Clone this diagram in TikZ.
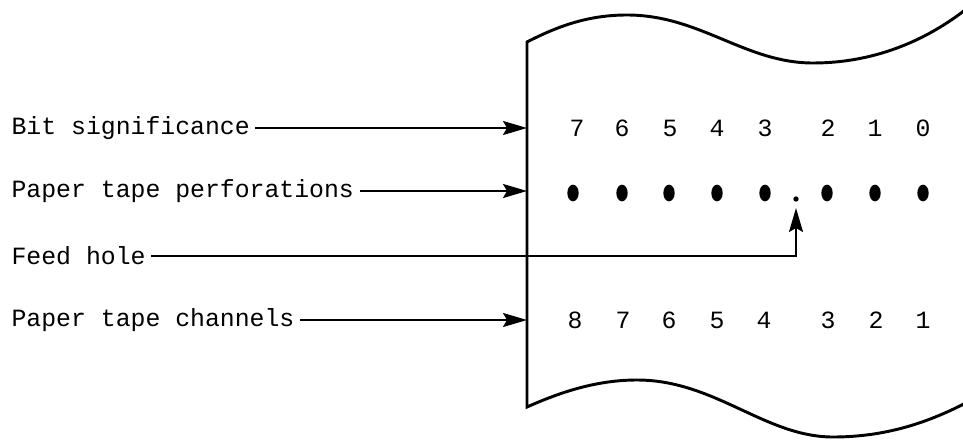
\documentclass[tikz,border=0pt]{standalone}
\usepackage{fontspec}
\setmainfont{Liberation Mono}
\usetikzlibrary{arrows.meta,shapes.geometric}
\begin{document}
\begin{tikzpicture}[x=0.75pt, y=-0.75pt,
    every node/.style={font=\fontsize{18.6}{22}\selectfont},
    rowtext/.style={anchor=west, inner sep=4pt},
    hole/.style={ellipse, fill=black, minimum width=8.5pt, minimum height=12.5pt, inner sep=0pt},
    sprocket/.style={circle, fill=black, minimum size=4pt, inner sep=0pt},
    pointer/.style={-{Stealth[length=18pt, width=10.5pt, inset=3pt]}, line width=1.5pt}]
    \useasboundingbox (0,0) rectangle (963,439);

    % Tape
    \draw[line width=2.2pt, line join=miter]
        (975,2) .. controls (930,40) and (875,63) .. (813,63)
        .. controls (745,63) and (700,15) .. (627,15)
        .. controls (590,15) and (560,25) .. (527,42)
        -- (527,407)
        .. controls (565,390) and (600,380) .. (637,380)
        .. controls (715,380) and (765,437) .. (833,437)
        .. controls (890,437) and (935,420) .. (975,398);

    % Labels
    \node[rowtext] (bit) at (6,128) {Bit significance};
    \node[rowtext] (perf) at (6,191) {Paper tape perforations};
    \node[rowtext] (feed) at (6,256) {Feed hole};
    \node[rowtext] (chan) at (6,320) {Paper tape channels};

    % Tape edge
    \coordinate (bitedge) at (527,128);
    \coordinate (perfedge) at (527,191);
    \coordinate (chanedge) at (527,320);

    % Bit numbers
    \foreach \d/\x in {7/577, 6/622, 5/670, 4/717, 3/765, 2/828, 1/875, 0/923}
        \node (bit\d) at (\x,128) {\d};

    % Holes
    \foreach \n/\x in {8/573, 7/622, 6/669, 5/717, 4/765, 3/827, 2/875, 1/923}
        \node[hole] (hole\n) at (\x,193) {};
    \node[sprocket] (feedhole) at (796,199) {};
    \coordinate (feedtip) at (796,208);

    % Channel numbers
    \foreach \d/\x in {8/575, 7/623, 6/669, 5/717, 4/764, 3/828, 2/876, 1/923}
        \node (chan\d) at (\x,320) {\d};

    % Arrows
    \draw[pointer] (bit.east) -- (bitedge);
    \draw[pointer] (perf.east) -- (perfedge);
    \draw[pointer] (feed.east) -| (feedtip);
    \draw[pointer] (chan.east) -- (chanedge);
\end{tikzpicture}
\end{document}
